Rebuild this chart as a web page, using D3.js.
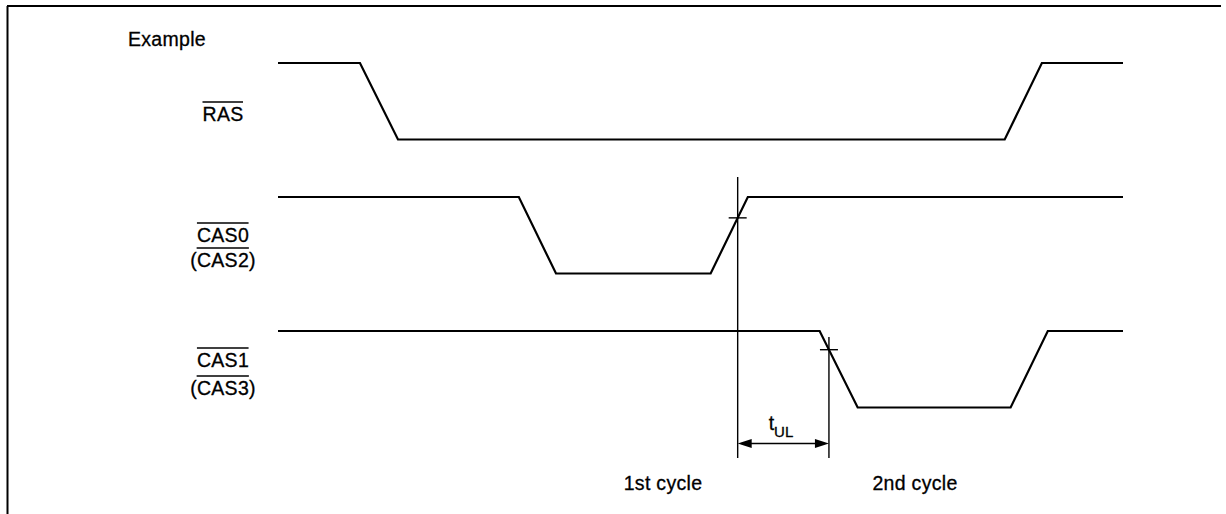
<!DOCTYPE html>
<html>
<head>
<meta charset="utf-8">
<script src="https://cdn.jsdelivr.net/npm/d3@7"></script>
<style>
  body { margin: 0; background: #fff; }
  text { font-family: "Liberation Sans", Arial, sans-serif; fill: #000; stroke: #000; stroke-width: 0.3px; letter-spacing: 0.3px; }
</style>
</head>
<body>
<svg id="chart" width="1226" height="514"></svg>
<script>
// signal names: main label and the optional bracketed alternate
const signalNames = ['RAS', 'CAS0', 'CAS1'];
const altNames = [null, 'CAS2', 'CAS3'];

// waveform breakpoints, [time, level] with time 0..100
const rasWave = [[0, 1], [9.7, 1], [14.2, 0], [86.0, 0], [90.4, 1], [100, 1]];
const cas0Wave = [[0, 1], [28.5, 1], [32.9, 0], [51.2, 0], [55.6, 1], [100, 1]];
const cas1Wave = [[0, 1], [64.1, 1], [68.6, 0], [86.7, 0], [91.1, 1], [100, 1]];
const waves = [rasWave, cas0Wave, cas1Wave];

// timing markers (times) and labels
const markerTimes = [54.4, 65.2];
const cycleLabels = ['1st cycle', '2nd cycle'];

const svg = d3.select('#chart');
const FS = 19.5;

// frame: top and left edges only
svg.append('line').attr('x1', 7).attr('y1', 6).attr('x2', 1221).attr('y2', 6)
  .attr('stroke', '#000').attr('stroke-width', 2);
svg.append('line').attr('x1', 7.5).attr('y1', 6).attr('x2', 7.5).attr('y2', 514)
  .attr('stroke', '#000').attr('stroke-width', 2);

const x = d3.scaleLinear().domain([0, 100]).range([278, 1123]);
const rowTop = d3.scalePoint().domain(signalNames).range([63, 331]);
const bandH = 76.5;

svg.append('text').attr('x', 128).attr('y', 46).attr('font-size', FS).text('Example');

const line = d3.line();

waves.forEach((w, i) => {
  const top = rowTop(signalNames[i]);
  const y = d3.scaleLinear().domain([0, 1]).range([top + bandH, top]);
  svg.append('path')
    .attr('d', line(w.map(d => [x(d[0]), y(d[1])])))
    .attr('fill', 'none').attr('stroke', '#000').attr('stroke-width', 2.2)
    .attr('stroke-linejoin', 'miter');
});

// labels with overbars
function overText(str, cx, baseline, withParens) {
  const g = svg.append('g');
  const t = g.append('text').attr('x', cx).attr('y', baseline)
    .attr('text-anchor', 'middle').attr('font-size', FS)
    .text(withParens ? '(' + str + ')' : str);
  const bb = t.node().getBBox();
  let x0 = bb.x, x1 = bb.x + bb.width - 0.5;
  if (withParens) {
    x0 += 6.5; x1 -= 6.5;
  }
  g.append('line').attr('x1', x0).attr('x2', x1)
    .attr('y1', baseline - 19).attr('y2', baseline - 19)
    .attr('stroke', '#000').attr('stroke-width', 1.5);
}

overText(signalNames[0], 223, 121, false);
overText(signalNames[1], 223, 242, false);
overText(altNames[1], 223, 267, true);
overText(signalNames[2], 223, 367, false);
overText(altNames[2], 223, 395, true);

// marker verticals
const mx = markerTimes.map(x);
svg.append('line').attr('x1', mx[0]).attr('x2', mx[0]).attr('y1', 177).attr('y2', 458)
  .attr('stroke', '#000').attr('stroke-width', 1.4);
svg.append('line').attr('x1', mx[1]).attr('x2', mx[1]).attr('y1', 337).attr('y2', 458)
  .attr('stroke', '#000').attr('stroke-width', 1.4);

// crossing ticks where the marker meets the edge
function edgeY(w, i, t) {
  const top = rowTop(signalNames[i]);
  const y = d3.scaleLinear().domain([0, 1]).range([top + bandH, top]);
  for (let k = 0; k < w.length - 1; k++) {
    if (t >= w[k][0] && t <= w[k + 1][0]) {
      const f = (t - w[k][0]) / (w[k + 1][0] - w[k][0]);
      return y(w[k][1] + f * (w[k + 1][1] - w[k][1]));
    }
  }
}
[[cas0Wave, 1, markerTimes[0]], [cas1Wave, 2, markerTimes[1]]].forEach(([w, i, t]) => {
  const yy = edgeY(w, i, t);
  svg.append('line').attr('x1', x(t) - 9).attr('x2', x(t) + 9)
    .attr('y1', yy).attr('y2', yy).attr('stroke', '#000').attr('stroke-width', 1.4);
});

// double arrow t_UL
const ay = 443.5;
svg.append('line').attr('x1', mx[0] + 4).attr('x2', mx[1] - 4).attr('y1', ay).attr('y2', ay)
  .attr('stroke', '#000').attr('stroke-width', 1.6);
svg.append('path')
  .attr('d', `M${mx[0]},${ay} L${mx[0] + 14},${ay - 4.5} L${mx[0] + 14},${ay + 4.5} Z`)
  .attr('fill', '#000');
svg.append('path')
  .attr('d', `M${mx[1]},${ay} L${mx[1] - 14},${ay - 4.5} L${mx[1] - 14},${ay + 4.5} Z`)
  .attr('fill', '#000');

const tl = svg.append('text').attr('x', 781).attr('y', 430)
  .attr('text-anchor', 'middle').attr('font-size', FS).style('letter-spacing', '0px');
tl.append('tspan').text('t');
tl.append('tspan').attr('font-size', 15).attr('dy', 7).text('UL');

// cycle labels
svg.append('text').attr('x', 663).attr('y', 490).attr('text-anchor', 'middle')
  .attr('font-size', FS).text(cycleLabels[0]);
svg.append('text').attr('x', 915).attr('y', 490).attr('text-anchor', 'middle')
  .attr('font-size', FS).text(cycleLabels[1]);
</script>
</body>
</html>
